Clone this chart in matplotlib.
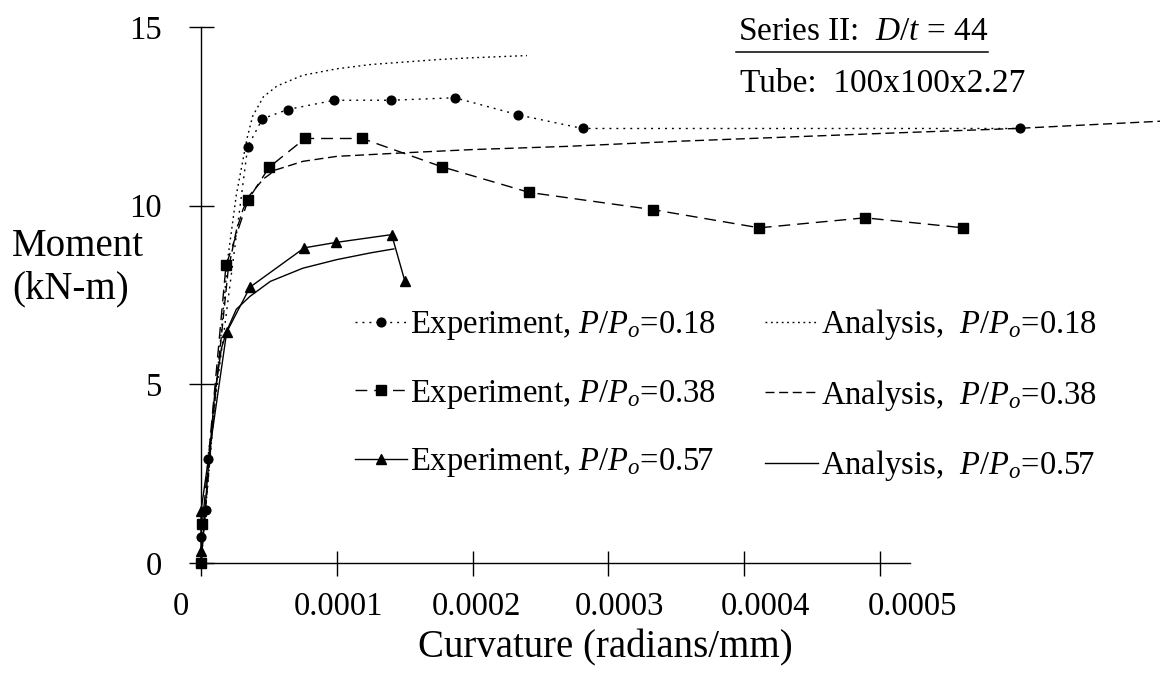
import numpy as np
import matplotlib.pyplot as plt
from matplotlib.lines import Line2D

plt.rcParams['font.family'] = ['Liberation Serif', 'DejaVu Serif']
plt.rcParams['mathtext.fontset'] = 'custom'
plt.rcParams['mathtext.rm'] = 'Liberation Serif'
plt.rcParams['mathtext.it'] = 'Liberation Serif:italic'

# experiments (curvature in rad/mm, moment in kN-m)
exp18_k = [0.0, 3.7e-6, 4.9e-6, 3.44e-5, 4.52e-5, 6.38e-5, 9.82e-5, 1.397e-4,
           1.870e-4, 2.337e-4, 2.811e-4, 6.03e-4]
exp18_m = [0.74, 1.48, 2.90, 11.65, 12.43, 12.69, 12.95, 12.95, 13.02, 12.54,
           12.16, 12.16]
exp38_k = [0.0, 1.0e-6, 1.84e-5, 3.48e-5, 5.03e-5, 7.66e-5, 1.188e-4, 1.772e-4,
           2.418e-4, 3.326e-4, 4.111e-4, 4.89e-4, 5.614e-4]
exp38_m = [0.0, 1.08, 8.33, 10.17, 11.08, 11.88, 11.88, 11.09, 10.37, 9.89,
           9.38, 9.66, 9.38]
exp57_k = [0.0, 0.0, 1.89e-5, 3.61e-5, 7.61e-5, 9.92e-5, 1.404e-4, 1.502e-4]
exp57_m = [0.34, 1.46, 6.46, 7.72, 8.82, 8.97, 9.19, 7.88]

# analysis
ana18_k = [0.0, 1.0e-5, 2.0e-5, 2.6e-5, 3.0e-5, 3.4e-5, 3.8e-5, 4.6e-5, 5.6e-5,
           7.5e-5, 1.0e-4, 1.25e-4, 1.5e-4, 1.75e-4, 2.0e-4, 2.4e-4]
ana18_m = [0.0, 4.4, 8.6, 10.3, 11.1, 11.9, 12.5, 13.05, 13.35, 13.65, 13.83,
           13.95, 14.02, 14.09, 14.14, 14.2]
ana38_k = [0.0, 1.0e-5, 2.0e-5, 2.6e-5, 3.1e-5, 3.6e-5, 4.6e-5, 5.5e-5, 7.5e-5,
           1.0e-4, 1.5e-4, 2.0e-4, 2.7e-4, 3.5e-4, 5.0e-4, 6.0e-4, 7.1e-4]
ana38_m = [0.0, 4.5, 8.2, 9.3, 9.9, 10.3, 10.75, 11.0, 11.24, 11.38, 11.48,
           11.57, 11.66, 11.8, 12.02, 12.16, 12.37]
ana57_k = [0.0, 5.0e-6, 1.0e-5, 1.5e-5, 1.9e-5, 2.6e-5, 3.6e-5, 5.1e-5, 7.5e-5,
           1.0e-4, 1.25e-4, 1.42e-4]
ana57_m = [0.0, 2.5, 4.7, 6.0, 6.5, 7.1, 7.46, 7.88, 8.25, 8.49, 8.68, 8.79]

xticks = [0.0, 1e-4, 2e-4, 3e-4, 4e-4, 5e-4]
xtick_text = ['0', '0.0001', '0.0002', '0.0003', '0.0004', '0.0005']
xtick_text_at = [-1.5e-5, 1.009e-4, 2.032e-4, 3.085e-4, 4.153e-4, 5.236e-4]
yticks = [0, 5, 10, 15]

W, H = 1160, 674
fig = plt.figure(figsize=(W / 100, H / 100), dpi=100)
ax = fig.add_axes([201 / W, (H - 563) / H, (W - 201) / W, (563 - 27) / H])
ax.set_xlim(0, 959 * 7.364e-7)
ax.set_ylim(0, 15)

lw = 1.0
ax.plot(exp18_k, exp18_m, color='black', lw=lw, linestyle=(0, (1.4, 3.6)),
        marker='o', ms=6.3, clip_on=False, label='Experiment, $P/P_o$=0.18')
ax.plot(exp38_k, exp38_m, color='black', lw=lw, linestyle=(0, (8.5, 5.0)),
        marker='s', ms=6.8, clip_on=False, label='Experiment, $P/P_o$=0.38')
ax.plot(exp57_k, exp57_m, color='black', lw=lw, linestyle='-',
        marker='^', ms=7, clip_on=False, label='Experiment, $P/P_o$=0.57')
ax.plot(ana18_k, ana18_m, color='black', lw=lw, linestyle=(0, (1.3, 2.6)),
        clip_on=False, label='Analysis,  $P/P_o$=0.18')
ax.plot(ana38_k, ana38_m, color='black', lw=lw, linestyle=(0, (6.5, 3.3)),
        clip_on=False, label='Analysis,  $P/P_o$=0.38')
ax.plot(ana57_k, ana57_m, color='black', lw=lw, linestyle='-',
        clip_on=False, label='Analysis,  $P/P_o$=0.57')

ax.spines['top'].set_visible(False)
ax.spines['right'].set_visible(False)
ax.spines['bottom'].set_bounds(0, 5.22e-4)
ax.spines['bottom'].set_linewidth(1.0)
ax.spines['left'].set_linewidth(1.0)

ax.set_xticks(xticks)
ax.set_xticklabels([])
ax.set_yticks(yticks)
ax.tick_params(axis='both', direction='inout', length=18, width=1.0,
               labelsize=23.5)
ax.tick_params(axis='y', pad=19)
for xt, s in zip(xtick_text_at, xtick_text):
    ax.text(xt, -0.082, s, transform=ax.get_xaxis_transform(),
            ha='center', va='center', fontsize=23.5)

fig.text(605 / W, 1 - 648 / H, 'Curvature (radians/mm)', ha='center',
         va='center', fontsize=28)
fig.text(12 / W, 1 - 247 / H, 'Moment', ha='left', va='center', fontsize=28)
fig.text(12 / W, 1 - 289 / H, '(kN-m)', ha='left', va='center', fontsize=28)

# specimen box, top right
fig.text(738 / W, 1 - 40 / H, 'Series II:  $D/t$ = 44', ha='left',
         va='baseline', fontsize=24)
fig.add_artist(Line2D([736 / W, 988 / W], [1 - 52 / H, 1 - 52 / H],
                      color='black', lw=1.1, transform=fig.transFigure))
fig.text(740 / W, 1 - 92 / H, 'Tube:  100x100x2.27', ha='left',
         va='baseline', fontsize=24)

leg = ax.legend(loc='upper left', bbox_to_anchor=(355 / W, 1 - 307 / H),
                bbox_transform=fig.transFigure, ncol=2, frameon=False,
                fontsize=23.5, handlelength=1.6, handletextpad=0.1,
                columnspacing=1.5, labelspacing=1.09, borderpad=0,
                borderaxespad=0, numpoints=1)

fig.savefig('out.png', dpi=100)
